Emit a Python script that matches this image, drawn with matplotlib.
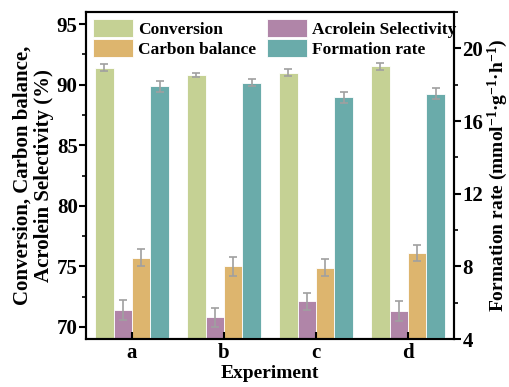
import numpy as np
import matplotlib
matplotlib.use("Agg")
import matplotlib.pyplot as plt
from matplotlib.ticker import MultipleLocator

plt.rcParams['font.family'] = ['Liberation Serif', 'DejaVu Serif']
plt.rcParams['font.weight'] = 'bold'
plt.rcParams['axes.labelweight'] = 'bold'
plt.rcParams['mathtext.fontset'] = 'custom'
plt.rcParams['mathtext.rm'] = 'Liberation Serif:bold'
plt.rcParams['mathtext.default'] = 'rm'

# data
experiments = ['a', 'b', 'c', 'd']
conversion = [91.4, 90.8, 91.0, 91.5]
conversion_err = [0.28, 0.2, 0.28, 0.28]
acrolein_sel = [71.4, 70.8, 72.1, 71.3]
acrolein_err = [0.8, 0.8, 0.72, 0.8]
carbon_balance = [75.7, 75.0, 74.9, 76.1]
carbon_err = [0.7, 0.8, 0.7, 0.7]
formation_rate = [17.9, 18.1, 17.3, 17.5]
formation_err = [0.3, 0.2, 0.3, 0.3]

colors = ['#c5d194', '#b085a8', '#ddb56e', '#6aabaa']
err_kw = dict(ecolor='#a0a0a0', elinewidth=1.2, capsize=3, capthick=1.2)

x = np.arange(len(experiments))
w = 0.2

fig = plt.figure(figsize=(5.1, 3.87), dpi=100)
ax1 = fig.add_axes([0.1686, 0.124, 0.7216, 0.845])
ax2 = ax1.twinx()

b1 = ax1.bar(x - 1.5 * w, conversion, w, yerr=conversion_err, color=colors[0],
             edgecolor='white', linewidth=0.6, error_kw=err_kw, label='Conversion')
b2 = ax1.bar(x - 0.5 * w, acrolein_sel, w, yerr=acrolein_err, color=colors[1],
             edgecolor='white', linewidth=0.6, error_kw=err_kw, label='Acrolein Selectivity')
b3 = ax1.bar(x + 0.5 * w, carbon_balance, w, yerr=carbon_err, color=colors[2],
             edgecolor='white', linewidth=0.6, error_kw=err_kw, label='Carbon balance')
b4 = ax2.bar(x + 1.5 * w, formation_rate, w, yerr=formation_err, color=colors[3],
             edgecolor='white', linewidth=0.6, error_kw=err_kw, label='Formation rate')

ax1.set_xlim(-0.5, 3.5)
ax1.set_ylim(69, 96)
ax2.set_ylim(4, 22)

ax1.set_xticks(x)
ax1.set_xticklabels(experiments)
ax1.yaxis.set_major_locator(MultipleLocator(5))
ax1.yaxis.set_minor_locator(MultipleLocator(2.5))
ax2.yaxis.set_major_locator(MultipleLocator(4))
ax2.yaxis.set_minor_locator(MultipleLocator(2))

ax1.tick_params(axis='x', direction='in', length=5, width=1.5, labelsize=15, pad=3)
ax1.tick_params(axis='y', which='major', direction='out', length=5, width=1.5, labelsize=15, pad=1)
ax1.tick_params(axis='y', which='minor', direction='out', length=3, width=1.2)
ax2.tick_params(axis='y', which='major', direction='out', length=5, width=1.5, labelsize=15, pad=1)
ax2.tick_params(axis='y', which='minor', direction='out', length=3, width=1.2)

for ax in (ax1, ax2):
    for s in ax.spines.values():
        s.set_linewidth(1.5)

ax1.set_xlabel('Experiment', fontsize=14, labelpad=1)
ax1.set_ylabel('Conversion, Carbon balance,\nAcrolein Selectivity (%)', fontsize=15,
               labelpad=2, linespacing=1.1)
ax2.set_ylabel('Formation rate (mmol$^{-1}$·g$^{-1}$·h$^{-1}$)', fontsize=14, labelpad=2)

ax1.legend([b1, b3, b2, b4], ['Conversion', 'Carbon balance', 'Acrolein Selectivity', 'Formation rate'],
           ncol=2, loc='upper left', frameon=False, fontsize=12.5,
           handlelength=2.3, handleheight=1.2, handletextpad=0.3,
           labelspacing=0.1, columnspacing=0.6, borderaxespad=0.1, borderpad=0.3)

fig.savefig('out.png', dpi=100)
